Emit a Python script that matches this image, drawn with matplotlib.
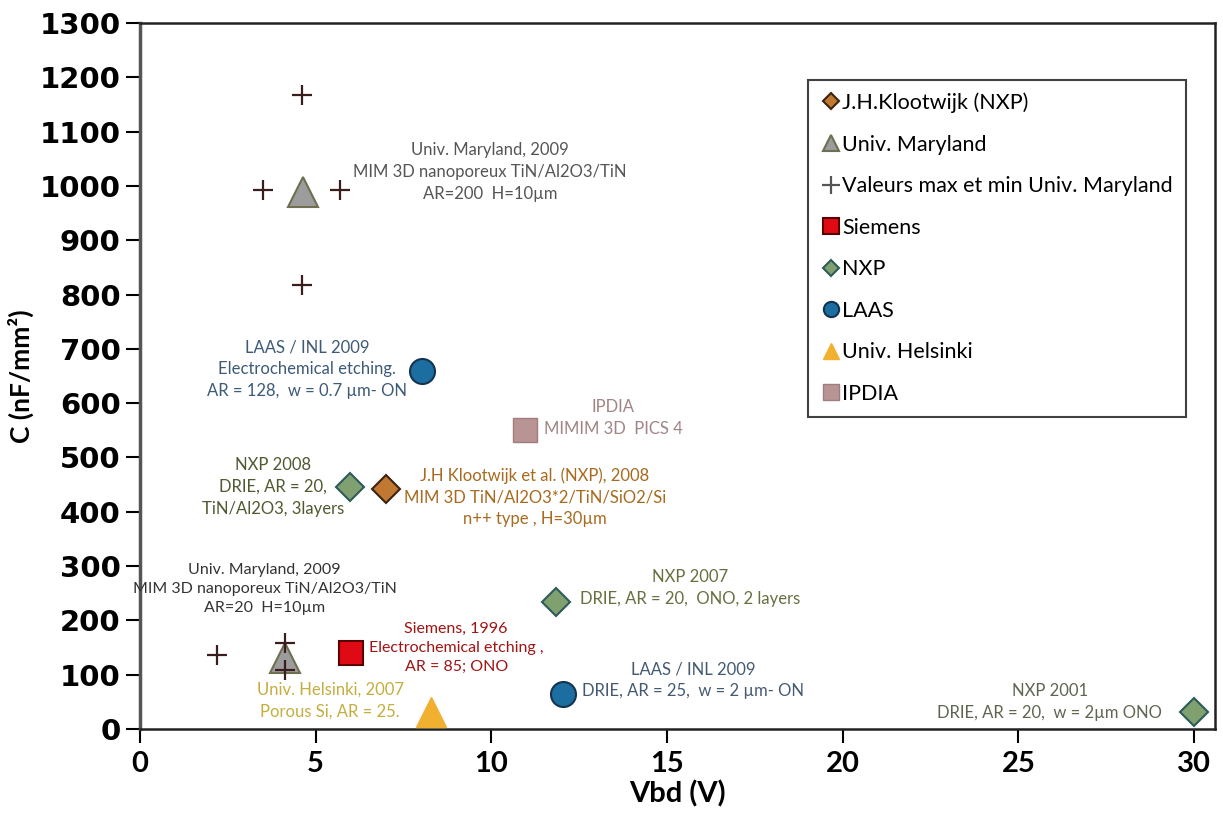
import matplotlib
matplotlib.use('Agg')
import matplotlib.pyplot as plt

# --- data (Vbd in V, C in nF/mm2) ---
klootwijk_x = [7.0]
klootwijk_y = [442]
maryland_x = [4.64, 4.13]
maryland_y = [989, 130]
maryland_minmax_x = [4.61, 3.50, 5.69, 4.61, 2.19, 4.13, 4.13]
maryland_minmax_y = [1168, 993, 993, 818, 136, 158, 109]
siemens_x = [6.0]
siemens_y = [140]
nxp_x = [5.98, 11.84, 30.0]
nxp_y = [446, 234, 31]
laas_x = [8.03, 12.04]
laas_y = [659, 64]
helsinki_x = [8.28]
helsinki_y = [31]
ipdia_x = [10.96]
ipdia_y = [551]

notes = [
    ("Univ. Maryland, 2009\nMIM 3D nanoporeux TiN/Al2O3/TiN\nAR=200  H=10µm", 9.96, 1026, '#555555', 12),
    ("LAAS / INL 2009\nElectrochemical etching.\nAR = 128,  w = 0.7 µm- ON", 4.75, 663, '#3d5a78', 12),
    ("IPDIA\nMIMIM 3D  PICS 4", 13.46, 573, '#a08585', 12),
    ("NXP 2008\nDRIE, AR = 20,\nTiN/Al2O3, 3layers", 3.79, 446, '#4f5a30', 12),
    ("J.H Klootwijk et al. (NXP), 2008\nMIM 3D TiN/Al2O3*2/TiN/SiO2/Si\nn++ type , H=30µm", 11.24, 427, '#a86a1e', 12),
    ("Univ. Maryland, 2009\nMIM 3D nanoporeux TiN/Al2O3/TiN\nAR=20  H=10µm", 3.55, 258, '#333333', 11.5),
    ("Siemens, 1996\nElectrochemical etching ,\nAR = 85; ONO", 9.0, 149, '#a01414', 11.5),
    ("Univ. Helsinki, 2007\nPorous Si, AR = 25.", 5.41, 52, '#c4ae40', 12),
    ("NXP 2007\nDRIE, AR = 20,  ONO, 2 layers", 15.66, 260, '#687040', 12),
    ("LAAS / INL 2009\nDRIE, AR = 25,  w = 2 µm- ON", 15.74, 90, '#445a72', 12),
    ("NXP 2001\nDRIE, AR = 20,  w = 2µm ONO", 25.9, 50, '#5f6650', 12),
]

fig = plt.figure(figsize=(12.23, 8.14), dpi=100)
ax = fig.add_axes([0.1145, 0.1044, 0.879, 0.8673])

ax.plot(klootwijk_x, klootwijk_y, 'D', ms=14, mfc='#c07832', mec='#3a2410', mew=1.5, ls='none',
        label='J.H.Klootwijk (NXP)', zorder=3)
ax.plot(maryland_x, maryland_y, '^', ms=21, mfc='#9c9c9c', mec='#6e6e50', mew=1.5, ls='none',
        label='Univ. Maryland', zorder=3)
ax.plot(maryland_minmax_x, maryland_minmax_y, '+', ms=14, mec='#3a1e1e', mew=1.6, ls='none',
        label='Valeurs max et min Univ. Maryland', zorder=4)
ax.plot(siemens_x, siemens_y, 's', ms=17, mfc='#e00a14', mec='#5a0000', mew=1.5, ls='none',
        label='Siemens', zorder=3)
ax.plot(nxp_x, nxp_y, 'D', ms=14, mfc='#80a070', mec='#2e5a5a', mew=1.5, ls='none',
        label='NXP', zorder=3)
ax.plot(laas_x, laas_y, 'o', ms=18, mfc='#1c6ea0', mec='#123450', mew=1.5, ls='none',
        label='LAAS', zorder=3)
ax.plot(helsinki_x, helsinki_y, '^', ms=21, mfc='#f2b030', mec='#f2b030', mew=1, ls='none',
        label='Univ. Helsinki', zorder=3)
ax.plot(ipdia_x, ipdia_y, 's', ms=17, mfc='#b89494', mec='#a07c7c', mew=1, ls='none',
        label='IPDIA', zorder=3)

for txt, x, y, c, fs in notes:
    ax.text(x, y, txt, ha='center', va='center', multialignment='center', color=c,
            fontsize=fs, family='Lato', linespacing=1.45)

ax.set_xlim(0, 30.6)
ax.set_ylim(0, 1300)
ax.set_xticks(range(0, 31, 5))
ax.set_yticks(range(0, 1301, 100))
ax.tick_params(axis='y', direction='out', length=10, width=1.5, pad=4, labelsize=21)
ax.tick_params(axis='x', direction='out', length=10, width=1.5, pad=6, labelsize=21)
for lab in ax.get_yticklabels():
    lab.set_fontweight('bold')
    lab.set_family('DejaVu Sans')
for lab in ax.get_xticklabels():
    lab.set_fontweight('bold')
    lab.set_family('Lato')
for s in ax.spines.values():
    s.set_linewidth(1.8)
    s.set_color('#222222')
ax.spines['left'].set_color('#555555')
ax.spines['left'].set_linewidth(2.5)

ax.set_xlabel('Vbd (V)', fontsize=21, fontweight='bold', family='Lato', labelpad=2)
ax.set_ylabel('C (nF/mm²)', fontsize=19, fontweight='bold', family='Lato', labelpad=4)

leg = ax.legend(loc='upper right', bbox_to_anchor=(0.973, 0.92), frameon=True, fancybox=False,
                edgecolor='#111111', prop={'family': 'Lato', 'size': 15.5}, handletextpad=0.1,
                handlelength=0.9, labelspacing=1.0, borderpad=0.6, borderaxespad=0)
leg.get_frame().set_linewidth(1.5)
for h in leg.legend_handles:
    m = h.get_marker()
    if m == '+':
        h.set_markersize(13)
        h.set_markeredgecolor('#555555')
    elif m == 'D':
        h.set_markersize(8)
    else:
        h.set_markersize(11)

fig.savefig('out.png', dpi=100)
